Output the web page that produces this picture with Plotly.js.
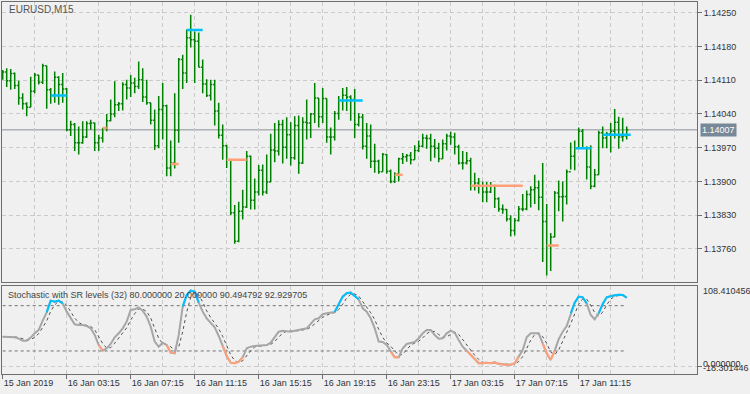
<!DOCTYPE html>
<html><head><meta charset="utf-8">
<script src="https://cdn.plot.ly/plotly-3.0.1.min.js"></script>
<style>html,body{margin:0;padding:0;background:#F0F0F0;}#chart{width:750px;height:394px;}</style>
</head><body><div id="chart"></div>
<script>
const symbolTitle = 'EURUSD,M15';
const indicatorTitle = 'Stochastic with SR levels (32) 80.000000 20.000000 90.494792 92.929705';

const barOpen = [1.14120,1.14127,1.14109,1.14124,1.14099,1.14073,1.14061,1.14054,1.14087,1.14121,
1.14106,1.14140,1.14090,1.14078,1.14116,1.14101,1.14092,1.14007,1.14018,1.13980,
1.13980,1.13992,1.14020,1.14021,1.13980,1.13990,1.14011,1.14026,1.14040,1.14059,
1.14061,1.14101,1.14094,1.14104,1.14097,1.14111,1.14075,1.14063,1.14027,1.13974,
1.14049,1.14057,1.13928,1.13938,1.14006,1.14153,1.14125,1.14198,1.14194,1.14191,
1.14137,1.14102,1.14078,1.14101,1.14046,1.13996,1.13974,1.13945,1.13835,1.13776,
1.13838,1.13847,1.13952,1.13861,1.13878,1.13923,1.13878,1.13899,1.13965,1.13963,
1.14018,1.13971,1.13997,1.13949,1.14016,1.13938,1.14023,1.14021,1.14040,1.14073,
1.14034,1.14072,1.13992,1.13992,1.14041,1.14068,1.14079,1.14075,1.14070,1.14018,
1.14033,1.13973,1.13994,1.13942,1.13942,1.13920,1.13956,1.13921,1.13900,1.13916,
1.13947,1.13951,1.13954,1.13945,1.13964,1.13973,1.13990,1.13989,1.13973,1.13969,
1.13947,1.13978,1.13994,1.13992,1.13972,1.13938,1.13938,1.13943,1.13891,1.13897,
1.13891,1.13878,1.13878,1.13890,1.13864,1.13843,1.13842,1.13822,1.13798,1.13819,
1.13843,1.13843,1.13873,1.13883,1.13887,1.13867,1.13817,1.13766,1.13785,1.13876,
1.13868,1.13869,1.13920,1.13952,1.13969,1.14004,1.13969,1.13930,1.13890,1.13914,
1.14001,1.13990,1.13999,1.14004,1.14023,1.13992,1.13994];

const barHigh = [1.14131,1.14135,1.14133,1.14126,1.14109,1.14083,1.14064,1.14117,1.14125,1.14121,
1.14144,1.14140,1.14094,1.14128,1.14118,1.14125,1.14094,1.14026,1.14021,1.14014,
1.14025,1.14025,1.14028,1.14022,1.13997,1.14011,1.14040,1.14070,1.14108,1.14065,
1.14106,1.14111,1.14121,1.14115,1.14149,1.14135,1.14111,1.14063,1.14049,1.14077,
1.14104,1.14059,1.13985,1.14083,1.14156,1.14163,1.14215,1.14246,1.14211,1.14209,
1.14153,1.14112,1.14111,1.14111,1.14063,1.14018,1.13976,1.13945,1.13851,1.13858,
1.13883,1.13963,1.13954,1.13906,1.13934,1.13935,1.13956,1.13999,1.14021,1.14027,
1.14028,1.14033,1.14023,1.14035,1.14037,1.14033,1.14070,1.14042,1.14104,1.14073,
1.14094,1.14072,1.14012,1.14046,1.14077,1.14094,1.14096,1.14079,1.14092,1.14042,
1.14040,1.14021,1.14018,1.13978,1.13945,1.13959,1.13957,1.13925,1.13919,1.13949,
1.13959,1.13957,1.13961,1.13975,1.13985,1.13999,1.13997,1.13999,1.13988,1.13980,
1.13987,1.13999,1.14003,1.14001,1.13976,1.13963,1.13961,1.13949,1.13918,1.13907,
1.13900,1.13899,1.13899,1.13893,1.13867,1.13852,1.13843,1.13830,1.13824,1.13849,
1.13874,1.13881,1.13890,1.13914,1.13902,1.13938,1.13853,1.13793,1.13880,1.13902,
1.13900,1.13925,1.13981,1.13985,1.14012,1.14009,1.13973,1.13975,1.13926,1.14005,
1.14014,1.14003,1.14021,1.14050,1.14034,1.14032,1.14014];

const barLow = [1.14111,1.14096,1.14090,1.14092,1.14059,1.14049,1.14035,1.14054,1.14083,1.14101,
1.14102,1.14051,1.14061,1.14063,1.14059,1.14063,1.14004,1.13994,1.13963,1.13956,
1.13978,1.13990,1.14007,1.13963,1.13963,1.13981,1.14004,1.14025,1.14033,1.14046,
1.14047,1.14070,1.14075,1.14083,1.14092,1.14065,1.14059,1.14018,1.13965,1.13969,
1.13987,1.13911,1.13911,1.13927,1.13980,1.14092,1.14104,1.14178,1.14104,1.14137,
1.14083,1.14075,1.14068,1.14016,1.13989,1.13945,1.13928,1.13830,1.13771,1.13774,
1.13821,1.13845,1.13842,1.13842,1.13871,1.13871,1.13874,1.13899,1.13940,1.13954,
1.13937,1.13947,1.13933,1.13945,1.13916,1.13936,1.13987,1.13990,1.14021,1.14012,
1.14021,1.13980,1.13956,1.13985,1.14028,1.14047,1.14046,1.14026,1.13990,1.14014,
1.13966,1.13947,1.13928,1.13918,1.13916,1.13920,1.13916,1.13896,1.13897,1.13900,
1.13936,1.13941,1.13935,1.13945,1.13961,1.13971,1.13968,1.13942,1.13949,1.13940,
1.13947,1.13964,1.13976,1.13956,1.13935,1.13925,1.13935,1.13881,1.13881,1.13875,
1.13857,1.13857,1.13876,1.13845,1.13837,1.13833,1.13817,1.13786,1.13788,1.13817,
1.13838,1.13840,1.13846,1.13853,1.13840,1.13733,1.13705,1.13714,1.13784,1.13838,
1.13817,1.13852,1.13925,1.13923,1.13969,1.13968,1.13904,1.13884,1.13888,1.13914,
1.13969,1.13969,1.13960,1.13989,1.13968,1.13983,1.13987];

const barClose = [1.14127,1.14109,1.14124,1.14099,1.14073,1.14061,1.14054,1.14087,1.14121,1.14106,
1.14140,1.14090,1.14078,1.14116,1.14101,1.14092,1.14007,1.14018,1.13980,1.13980,
1.13992,1.14020,1.14021,1.13980,1.13990,1.14011,1.14026,1.14040,1.14059,1.14061,
1.14101,1.14094,1.14104,1.14097,1.14111,1.14075,1.14063,1.14027,1.13974,1.14049,
1.14057,1.13928,1.13938,1.14006,1.14153,1.14125,1.14198,1.14194,1.14191,1.14137,
1.14102,1.14078,1.14101,1.14046,1.13996,1.13974,1.13945,1.13835,1.13776,1.13838,
1.13847,1.13952,1.13861,1.13878,1.13923,1.13878,1.13899,1.13965,1.13963,1.14018,
1.13971,1.13997,1.13949,1.14016,1.13938,1.14023,1.14021,1.14040,1.14073,1.14034,
1.14072,1.13992,1.13992,1.14041,1.14068,1.14079,1.14075,1.14070,1.14018,1.14033,
1.13973,1.13994,1.13942,1.13942,1.13920,1.13956,1.13921,1.13900,1.13916,1.13947,
1.13951,1.13954,1.13945,1.13964,1.13973,1.13990,1.13989,1.13973,1.13969,1.13947,
1.13978,1.13994,1.13992,1.13972,1.13938,1.13938,1.13943,1.13891,1.13897,1.13891,
1.13878,1.13878,1.13890,1.13864,1.13843,1.13842,1.13822,1.13798,1.13819,1.13843,
1.13843,1.13873,1.13883,1.13887,1.13867,1.13817,1.13766,1.13785,1.13876,1.13868,
1.13869,1.13920,1.13952,1.13969,1.14004,1.13969,1.13930,1.13890,1.13914,1.14001,
1.13990,1.13999,1.14004,1.14023,1.13992,1.13994,1.14007];

// support / resistance segments (bar index from, to, price, kind)
const srStart = [12, 25, 42, 46, 56, 84, 98, 117, 136, 143, 150];
const srEnd   = [16, 26, 44, 50, 61, 90, 100, 130, 139, 147, 157];
const srLevel = [1.14078, 1.14011, 1.13936, 1.14214, 1.13945, 1.14068, 1.13914, 1.13891, 1.13767, 1.13969, 1.13997];
const srKind  = ['R','S','S','R','S','R','S','S','S','R','R'];

const stochMain = [39,39,39,38.1,36.3,33.7,33.7,37.7,43.4,47.8,
60.2,71.2,86.7,85.3,86.7,83.1,72.1,63.3,55.3,54.4,
54.4,53.1,50,41.2,27.9,20.4,23.5,29.3,38.1,43.4,
50,58.8,74.3,75.2,77.8,73.4,65.5,52.2,32.4,25.7,
31,27.9,17.8,16.9,41.2,78.7,94.2,100,98.8,84,
72.1,63.3,57.5,51.3,39.9,26.6,13.4,4.5,3.7,5.9,
11.6,23.5,25.7,26.6,27.1,27.1,27.9,31,39,45.6,
46.9,46,45.6,46.9,47.8,48.7,50,55.8,61.9,63.3,
68.7,70,70.8,71.6,82.3,92,96.4,97.3,92.8,88.4,
76.5,72.1,63.3,50,32.4,31.9,27.9,19.1,11.6,11.6,
23.5,29.3,30.2,31.9,36.8,43.4,47.8,47.8,41.2,36.3,
36.8,43.4,46.9,44.3,34.6,25.7,20.4,14.7,8.1,3.7,
3.7,4.5,3.7,5,2.8,1.9,1.9,1.9,3.7,12.5,
21.3,38.1,43.4,43.4,43.4,30.2,16.9,8.1,20.4,35.5,
45.6,53.1,69.9,84,92,91.1,83.1,67.7,62,69.9,
82.3,91.1,92.8,93.7,94.6,94.2,90.49];

const stochSignal = [39,39,39,38.7,37.8,36,34.6,35,38.3,43,
50.5,59.7,72.7,81,86.2,85,80.6,72.8,63.6,57.7,
54.7,54,52.5,48.1,39.7,29.8,23.9,24.4,30.3,36.9,
43.8,50.7,61,69.4,75.8,75.5,72.2,63.7,50,36.8,
29.7,28.2,25.6,20.9,25.3,45.6,71.4,91,97.7,94.3,
85,73.1,64.3,57.4,49.6,39.3,26.6,14.8,7.2,4.7,
7.1,13.7,20.3,25.3,26.5,27,27.4,28.7,32.6,38.5,
43.8,46.2,46.2,46.2,46.8,47.8,48.8,51.5,55.9,60.3,
64.6,67.3,69.8,70.8,74.9,82,90.2,95.2,95.5,92.8,
85.9,79,70.6,61.8,48.6,38.1,30.7,26.3,19.5,14.1,
15.6,21.5,27.7,30.5,33,37.4,42.7,46.3,45.6,41.8,
38.1,38.8,42.4,44.9,41.9,34.9,26.9,20.3,14.4,8.8,
5.2,4,4,4.4,3.8,3.2,2.2,1.9,2.5,6,
12.5,24,34.3,41.6,43.4,39,30.2,18.4,15.1,21.3,
33.8,44.7,56.2,69,81.9,89,88.7,80.6,70.9,66.5,
71.4,81.1,88.7,92.5,93.7,94.2,92.93];

// 1 = resistance zone colour, -1 = support zone colour, 0 = neutral
const stochState = [0,0,0,0,0,0,0,0,0,0,
0,1,1,1,1,1,0,0,0,0,
0,0,0,0,-1,-1,0,0,0,0,
0,0,0,0,0,0,0,0,0,0,
0,-1,-1,-1,0,1,1,1,1,1,
0,0,0,0,0,-1,-1,-1,-1,-1,
-1,0,0,0,0,0,0,0,0,0,
0,0,0,0,0,0,0,0,0,0,
0,0,0,1,1,1,1,1,1,1,
0,0,0,0,0,0,0,-1,-1,-1,
0,0,0,0,0,0,0,0,0,0,
0,0,0,0,0,0,-1,-1,-1,-1,
-1,-1,-1,-1,-1,-1,-1,-1,-1,-1,
0,0,0,0,0,-1,-1,-1,-1,0,
0,0,1,1,1,1,1,0,0,1,
1,1,1,1,1,1,1];

const stochLevels = [80, 20];
const currentPrice = 1.14007;
const priceTicks = [1.14250, 1.14180, 1.14110, 1.14040, 1.13970, 1.13900, 1.13830, 1.13760];
const timeTickBars = [0, 16, 32, 48, 64, 80, 96, 112, 128, 144];
const timeTickLabels = ['15 Jan 2019','16 Jan 03:15','16 Jan 07:15','16 Jan 11:15','16 Jan 15:15',
  '16 Jan 19:15','16 Jan 23:15','17 Jan 03:15','17 Jan 07:15','17 Jan 11:15'];
const stochScaleLabels = ['108.410456', '0.000000', '-18.301446'];

// ---------- build ----------
const bars = barClose.map((_, i) => i);
const FONT = 'Liberation Sans, Arial, sans-serif';
const GREEN = '#008000', BLUE = '#00BFFF', SALMON = '#FFA07A';
const GRID = '#CACACA', BORDER = '#6E6E6E';
const xRange = [-0.175, 173.575];
const gridMajor = [], gridMinor = [];
for (let k = 8; k < xRange[1]; k += 8) gridMajor.push(k);
for (let k = 8; k < xRange[1]; k += 16) gridMinor.push(k);

const traces = [];
traces.push({
  type: 'ohlc', x: bars, open: barOpen, high: barHigh, low: barLow, close: barClose,
  xaxis: 'x', yaxis: 'y', tickwidth: 0.4, hoverinfo: 'skip',
  increasing: {line: {color: GREEN, width: 1.5}},
  decreasing: {line: {color: GREEN, width: 1.5}}
});
for (let i = 0; i < srStart.length; i++) {
  traces.push({type: 'scatter', mode: 'lines', xaxis: 'x', yaxis: 'y',
    x: [srStart[i], srEnd[i]], y: [srLevel[i], srLevel[i]],
    line: {color: srKind[i] === 'R' ? BLUE : SALMON, width: 2.5}, hoverinfo: 'skip'});
}
// stochastic panel
const last = bars[bars.length - 1];
stochLevels.forEach(v => traces.push({type: 'scatter', mode: 'lines', xaxis: 'x2', yaxis: 'y2',
  x: [bars[0], last], y: [v, v], line: {color: '#707070', width: 1, dash: '3px,3px'}, hoverinfo: 'skip'}));
traces.push({type: 'scatter', mode: 'lines', xaxis: 'x2', yaxis: 'y2', x: bars, y: stochSignal,
  line: {color: '#505050', width: 1, dash: '3px,3px'}, hoverinfo: 'skip'});
traces.push({type: 'scatter', mode: 'lines', xaxis: 'x2', yaxis: 'y2', x: bars, y: stochMain,
  line: {color: '#A6A6A6', width: 2}, hoverinfo: 'skip'});
let i = 0;
while (i < stochState.length) {
  if (stochState[i] !== 0) {
    let j = i;
    while (j + 1 < stochState.length && stochState[j + 1] === stochState[i]) j++;
    traces.push({type: 'scatter', mode: 'lines', xaxis: 'x2', yaxis: 'y2',
      x: bars.slice(i, j + 1), y: stochMain.slice(i, j + 1),
      line: {color: stochState[i] > 0 ? BLUE : SALMON, width: 2}, hoverinfo: 'skip'});
    i = j + 1;
  } else i++;
}

const tickFont = {family: FONT, size: 9, color: '#333'};
const layout = {
  width: 750, height: 394,
  margin: {l: 2, r: 53, t: 2, b: 20, pad: 0},
  paper_bgcolor: '#F0F0F0', plot_bgcolor: '#F0F0F0',
  showlegend: false, hovermode: false, dragmode: false,
  xaxis: {domain: [0, 1], range: xRange, anchor: 'y', tickmode: 'array', tickvals: gridMajor,
    showticklabels: false, ticks: '', showgrid: true, gridcolor: GRID, griddash: '4px,3px', gridwidth: 1,
    showline: true, mirror: true, linecolor: BORDER, linewidth: 1, zeroline: false,
    rangeslider: {visible: false}, fixedrange: true},
  yaxis: {domain: [0.246, 1], range: [1.136904, 1.142722], anchor: 'x', side: 'right',
    tickmode: 'array', tickvals: priceTicks, ticktext: priceTicks.map(v => v.toFixed(5)),
    ticks: 'outside', ticklen: 4, tickcolor: BORDER, tickfont: tickFont,
    showgrid: true, gridcolor: GRID, griddash: '4px,3px', gridwidth: 1,
    showline: true, mirror: true, linecolor: BORDER, linewidth: 1, zeroline: false, fixedrange: true},
  xaxis2: {domain: [0, 1], range: xRange, anchor: 'y2', tickmode: 'array',
    tickvals: timeTickBars, ticktext: timeTickLabels, ticks: 'outside', ticklen: 4, tickcolor: BORDER,
    ticklabelposition: 'outside right', tickfont: tickFont,
    showgrid: true, gridcolor: GRID, griddash: '4px,3px', gridwidth: 1,
    minor: {tickvals: gridMinor, showgrid: true, gridcolor: GRID, griddash: '4px,3px', ticks: ''},
    showline: true, mirror: true, linecolor: BORDER, linewidth: 1, zeroline: false, fixedrange: true},
  yaxis2: {domain: [0, 0.2366], range: [-10.5, 106.1], anchor: 'x2', side: 'right',
    tickmode: 'array', tickvals: [0], showticklabels: false, ticks: 'outside', ticklen: 4, tickcolor: BORDER,
    showgrid: true, gridcolor: GRID, griddash: '4px,3px', gridwidth: 1,
    showline: true, mirror: true, linecolor: BORDER, linewidth: 1, zeroline: false, fixedrange: true},
  shapes: [{type: 'line', xref: 'x domain', x0: 0, x1: 1, yref: 'y', y0: currentPrice, y1: currentPrice,
    line: {color: '#8A9098', width: 1}, layer: 'below'}],
  annotations: [
    {text: symbolTitle, xref: 'paper', yref: 'paper', x: 0.0072, y: 0.98, xanchor: 'left', yanchor: 'middle',
      showarrow: false, font: {family: FONT, size: 10, color: '#555'}},
    {text: indicatorTitle, xref: 'paper', yref: 'paper', x: 0.0058, y: 0.2124, xanchor: 'left', yanchor: 'middle',
      showarrow: false, font: {family: FONT, size: 9, color: '#444'}},
    {text: currentPrice.toFixed(5), xref: 'paper', yref: 'y', x: 1, y: currentPrice, xanchor: 'left', xshift: 3,
      yanchor: 'middle', showarrow: false, bgcolor: '#778899', borderpad: 1,
      font: {family: FONT, size: 9, color: '#FFFFFF'}},
    {text: stochScaleLabels[0], xref: 'paper', yref: 'y2', x: 1, xshift: 4, y: 99.5, xanchor: 'left', yanchor: 'middle',
      showarrow: false, font: tickFont},
    {text: stochScaleLabels[1], xref: 'paper', yref: 'y2', x: 1, xshift: 4, y: 2.8, xanchor: 'left', yanchor: 'middle',
      showarrow: false, font: tickFont},
    {text: stochScaleLabels[2], xref: 'paper', yref: 'y2', x: 1, xshift: 4, y: -2.9, xanchor: 'left', yanchor: 'middle',
      showarrow: false, font: tickFont}
  ]
};
Plotly.newPlot('chart', traces, layout, {displayModeBar: false, staticPlot: true});
</script></body></html>
